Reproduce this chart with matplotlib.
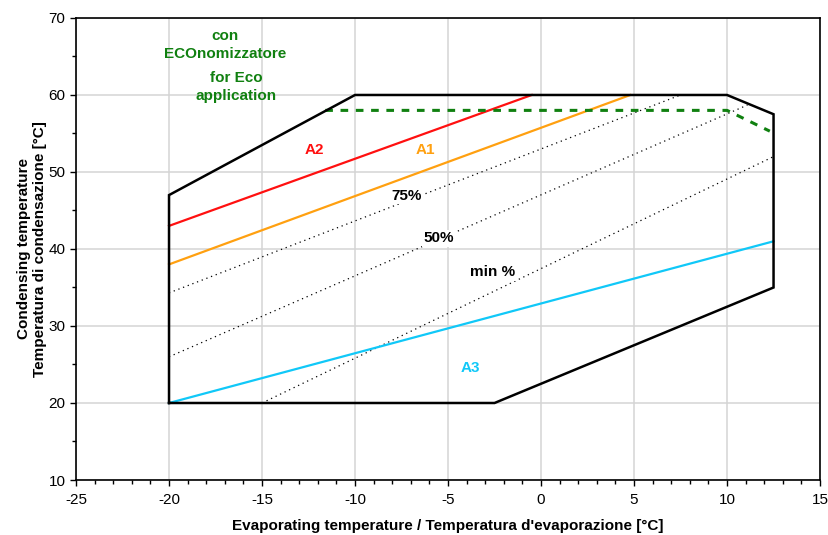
import matplotlib
matplotlib.use("Agg")
import matplotlib.pyplot as plt
from matplotlib.ticker import MultipleLocator

plt.rcParams['font.family'] = ['Liberation Sans', 'DejaVu Sans']
plt.rcParams['axes.unicode_minus'] = False

# Operating envelope (evaporating, condensing) in °C
envelope_x = [-20, -20, -10, 10, 12.5, 12.5, -2.5, -20]
envelope_y = [20, 47, 60, 60, 57.5, 35, 20, 20]

# Application limit lines
a2_x, a2_y = [-20, -0.5], [43, 60]
a1_x, a1_y = [-20, 4.8], [38, 60]
a3_x, a3_y = [-20, 12.5], [20, 41]

# Capacity step lines
p75_x, p75_y = [-20, 7.5], [34.3, 60]
p50_x, p50_y = [-20, 11.1], [26, 58.7]
pmin_x, pmin_y = [-15, 12.5], [20, 52]

# Economizer limit
eco_x = [-11.6, 10, 12.3]
eco_y = [58, 58, 55.3]

fig = plt.figure(figsize=(8.29, 5.35), dpi=100)
ax = fig.add_axes([0.0917, 0.1028, 0.8975, 0.8636])

ax.set_xlim(-25, 15)
ax.set_ylim(10, 70)
ax.xaxis.set_major_locator(MultipleLocator(5))
ax.xaxis.set_minor_locator(MultipleLocator(1))
ax.yaxis.set_major_locator(MultipleLocator(10))
ax.yaxis.set_minor_locator(MultipleLocator(5))
ax.grid(True, which='major', color='#d4d4d4', lw=1.1, zorder=0)
ax.tick_params(which='major', length=4, width=1, labelsize=11, direction='out')
ax.tick_params(axis='x', which='major', pad=5)
ax.tick_params(which='minor', length=3, width=1, direction='out')
for s in ax.spines.values():
    s.set_linewidth(1.2)

ax.plot(envelope_x, envelope_y, color='black', lw=1.8, zorder=4, solid_joinstyle='miter')
ax.plot(a2_x, a2_y, color='#ff1010', lw=1.6, zorder=3)
ax.plot(a1_x, a1_y, color='#ffa010', lw=1.6, zorder=3)
ax.plot(a3_x, a3_y, color='#10c8f8', lw=1.6, zorder=3)
for xs, ys in [(p75_x, p75_y), (p50_x, p50_y), (pmin_x, pmin_y)]:
    ax.plot(xs, ys, color='black', lw=0.9, ls=(0, (1, 3)), zorder=2)
ax.plot(eco_x, eco_y, color='#108010', lw=2.2, ls=(0, (2.5, 2.5)), zorder=3)

bbox = dict(boxstyle='square,pad=0.1', fc='white', ec='none')
fs = 11
ax.text(-12.2, 52.9, 'A2', color='#ff1010', fontsize=fs, fontweight='bold', ha='center', va='center')
ax.text(-6.2, 52.9, 'A1', color='#ffa010', fontsize=fs, fontweight='bold', ha='center', va='center')
ax.text(-3.8, 24.5, 'A3', color='#10c8f8', fontsize=fs, fontweight='bold', ha='center', va='center')
ax.text(-7.25, 46.9, '75%', color='black', fontsize=fs, fontweight='bold', ha='center', va='center', bbox=bbox, zorder=5)
ax.text(-5.5, 41.4, '50%', color='black', fontsize=fs, fontweight='bold', ha='center', va='center', bbox=bbox, zorder=5)
ax.text(-2.6, 37.0, 'min %', color='black', fontsize=fs, fontweight='bold', ha='center', va='center', bbox=bbox, zorder=5)

green = '#108010'
ax.text(-17.0, 67.6, 'con', color=green, fontsize=fs, fontweight='bold', ha='center', va='center')
ax.text(-17.0, 65.3, 'ECOnomizzatore', color=green, fontsize=fs, fontweight='bold', ha='center', va='center')
ax.text(-16.4, 62.2, 'for Eco', color=green, fontsize=fs, fontweight='bold', ha='center', va='center')
ax.text(-16.4, 59.9, 'application', color=green, fontsize=fs, fontweight='bold', ha='center', va='center')

ax.set_xlabel("Evaporating temperature / Temperatura d'evaporazione [°C]", fontsize=11, fontweight='bold', labelpad=9)
ax.set_ylabel("Condensing temperature\nTemperatura di condensazione [°C]", fontsize=11, fontweight='bold', labelpad=1)

fig.savefig('out.png', dpi=100)
